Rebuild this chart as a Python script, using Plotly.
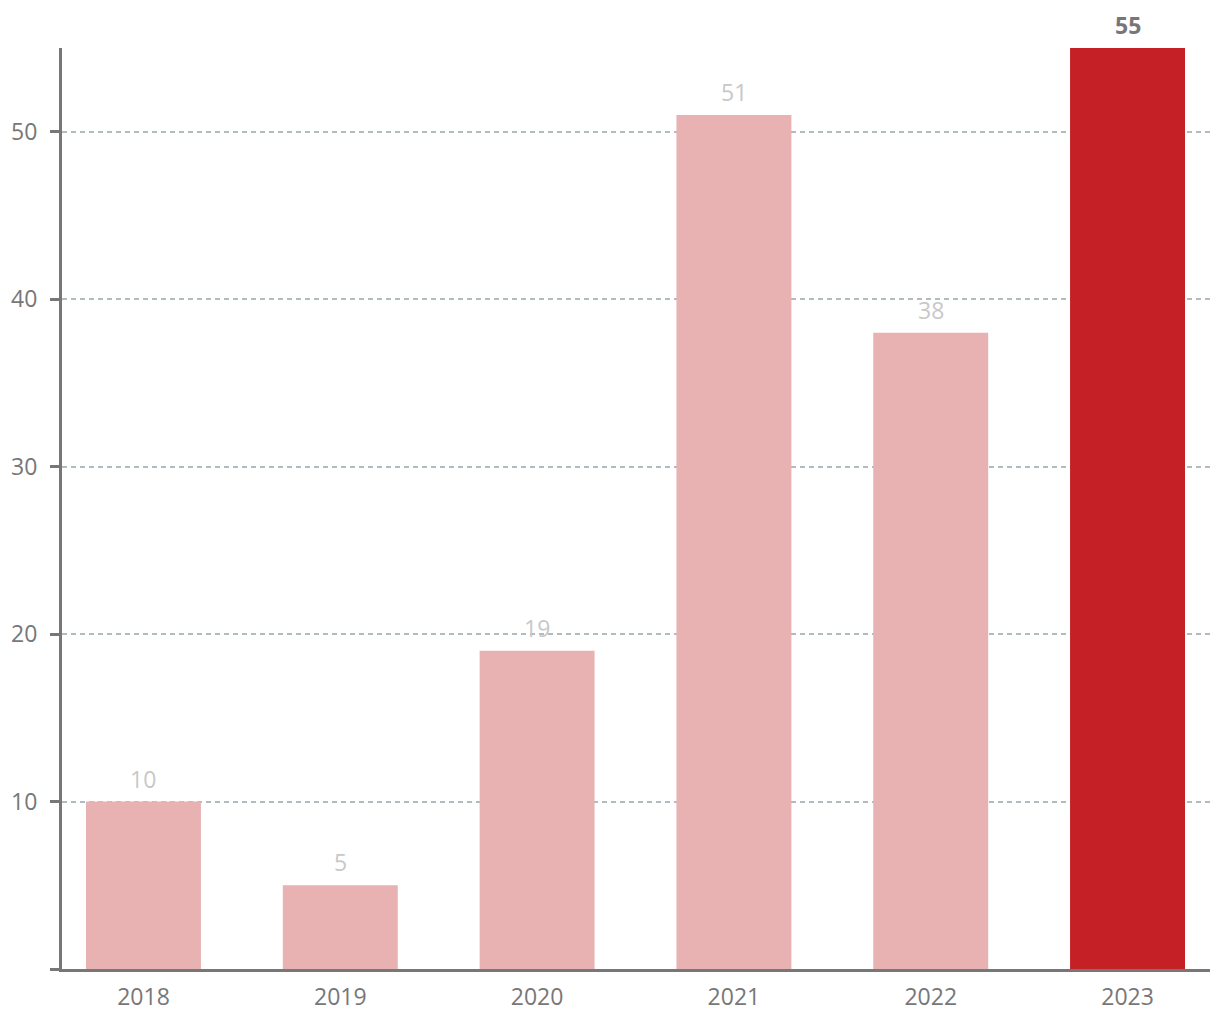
import plotly.graph_objects as go

years = ["2018", "2019", "2020", "2021", "2022", "2023"]
values = [10, 5, 19, 51, 38, 55]
highlight = "2023"

light = "#e8b1b2"
dark = "#c42026"
colors = [dark if y == highlight else light for y in years]

fig = go.Figure()
fig.add_trace(go.Bar(
    x=list(range(len(years))), y=values,
    marker=dict(color=colors, line=dict(width=0)),
    width=0.584, hoverinfo="skip",
))

for i, (y, v) in enumerate(zip(years, values)):
    is_h = y == highlight
    fig.add_annotation(
        x=i, y=v, text=f"<b>{v}</b>" if is_h else str(v),
        showarrow=False, yanchor="bottom", yshift=5,
        font=dict(size=23, color="#777777" if is_h else "#c8c8c8",
                  family="Open Sans"),
    )

fig.update_layout(
    width=1220, height=1020,
    margin=dict(l=62, r=10, t=48, b=51),
    plot_bgcolor="white", paper_bgcolor="white",
    showlegend=False,
    font=dict(family="Open Sans", size=23, color="#777777"),
    xaxis=dict(
        range=[-0.414, 5.419], automargin=False,
        tickvals=list(range(len(years))), ticktext=years,
        showgrid=False, zeroline=False,
        showline=True, linecolor="#777777", linewidth=3,
        ticks="", tickfont=dict(size=23, color="#777777"),
        ticklabelstandoff=5,
    ),
    yaxis=dict(
        range=[0, 55], automargin=False,
        tickvals=[0, 10, 20, 30, 40, 50],
        ticktext=["", "10", "20", "30", "40", "50"],
        showgrid=True, gridcolor="#b0bcc0", gridwidth=1.5, griddash="5px,4px",
        zeroline=False,
        showline=True, linecolor="#777777", linewidth=3,
        ticks="outside", ticklen=9, tickwidth=3, tickcolor="#777777",
        tickfont=dict(size=23, color="#777777"),
        ticklabelstandoff=8,
    ),
)

fig.write_html("out.html")
